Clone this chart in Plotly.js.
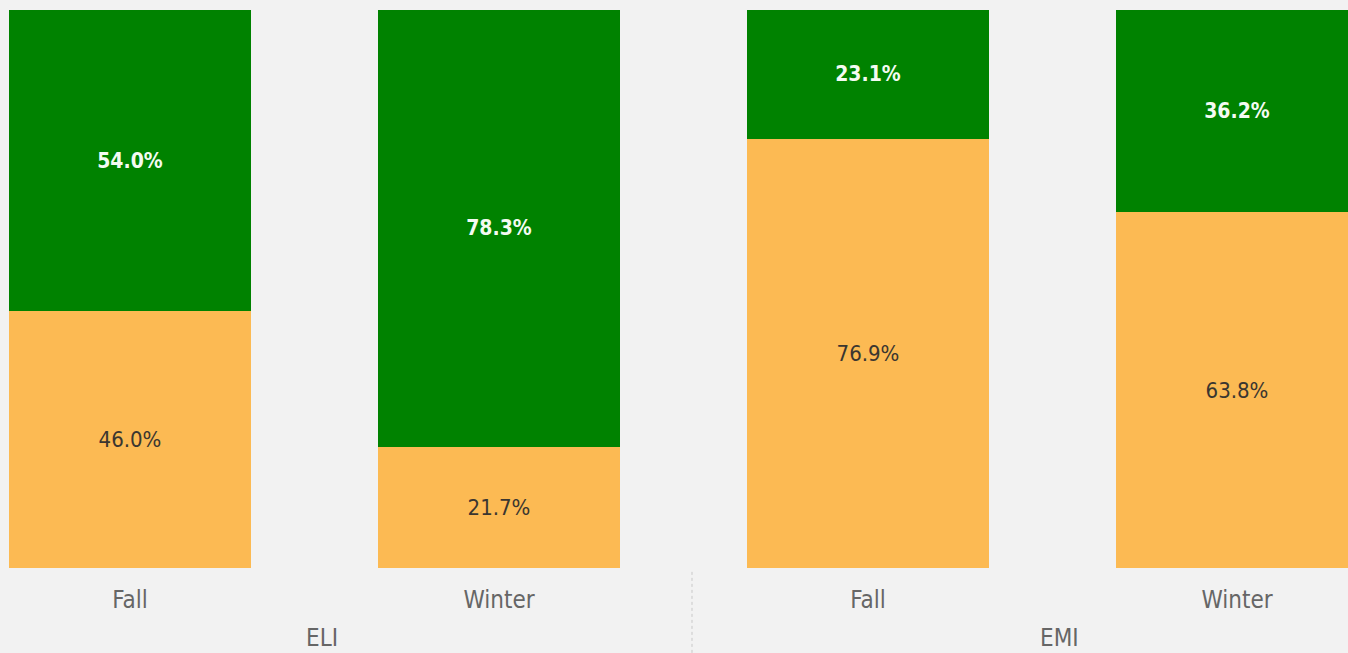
<!DOCTYPE html>
<html>
<head>
<meta charset="utf-8">
<script src="https://cdn.plot.ly/plotly-3.0.1.min.js"></script>
<style>
  html, body { margin: 0; padding: 0; background: #f2f2f2; }
  #chart { width: 1348px; height: 653px; }
</style>
</head>
<body>
<div id="chart"></div>
<script>
// Data
const barLabels = ["Fall", "Winter", "Fall", "Winter"];
const groupLabels = ["ELI", "EMI"];
const bottomValues = [46.0, 21.7, 76.9, 63.8];   // orange segment
const topValues = [54.0, 78.3, 23.1, 36.2];      // green segment

const positions = barLabels.map((_, i) => i);
const FONT = '"Liberation Sans Narrow", "DejaVu Sans Condensed", "Noto Sans", sans-serif';

const common = {
  type: 'bar',
  x: positions,
  width: 0.656,
  texttemplate: '%{y:.1f}%',
  textposition: 'inside',
  insidetextanchor: 'middle',
  textangle: 0,
  constraintext: 'none',
  hoverinfo: 'skip'
};

const traces = [
  Object.assign({}, common, {
    name: 'bottom',
    y: bottomValues,
    marker: { color: '#FCBA53', line: { width: 0 } },
    textfont: { family: FONT, size: 22, color: '#3a3630' }
  }),
  Object.assign({}, common, {
    name: 'top',
    y: topValues,
    marker: { color: '#008200', line: { width: 0 } },
    textfont: { family: FONT, size: 21, color: '#f4fbf2', weight: 'bold' }
  })
];

const layout = {
  width: 1348,
  height: 653,
  barmode: 'stack',
  showlegend: false,
  paper_bgcolor: '#f2f2f2',
  plot_bgcolor: '#f2f2f2',
  margin: { l: 0, r: 0, t: 10, b: 85, pad: 0 },
  font: { family: FONT, color: '#666666' },
  xaxis: {
    range: [-0.3523, 3.3008],
    tickmode: 'array',
    tickvals: positions,
    ticktext: barLabels,
    tickfont: { family: FONT, size: 24, color: '#666666' },
    showgrid: false,
    zeroline: false,
    showline: false,
    ticks: '',
    ticklabelstandoff: 15,
    fixedrange: true
  },
  yaxis: {
    range: [0, 100],
    visible: false,
    showgrid: false,
    zeroline: false,
    fixedrange: true
  },
  annotations: [
    { text: groupLabels[0], x: 0.52, y: 0, xref: 'x', yref: 'paper', yshift: -70, yanchor: 'middle',
      showarrow: false, font: { family: FONT, size: 24, color: '#666666' } },
    { text: groupLabels[1], x: 2.52, y: 0, xref: 'x', yref: 'paper', yshift: -70, yanchor: 'middle',
      showarrow: false, font: { family: FONT, size: 24, color: '#666666' } }
  ],
  shapes: [
    { type: 'line', xref: 'x', yref: 'paper', x0: 1.523, x1: 1.523, y0: -0.007, y1: -0.16,
      line: { color: '#c8c8c8', width: 1, dash: 'dot' } }
  ]
};

Plotly.newPlot('chart', traces, layout, { displayModeBar: false, staticPlot: true });
</script>
</body>
</html>
